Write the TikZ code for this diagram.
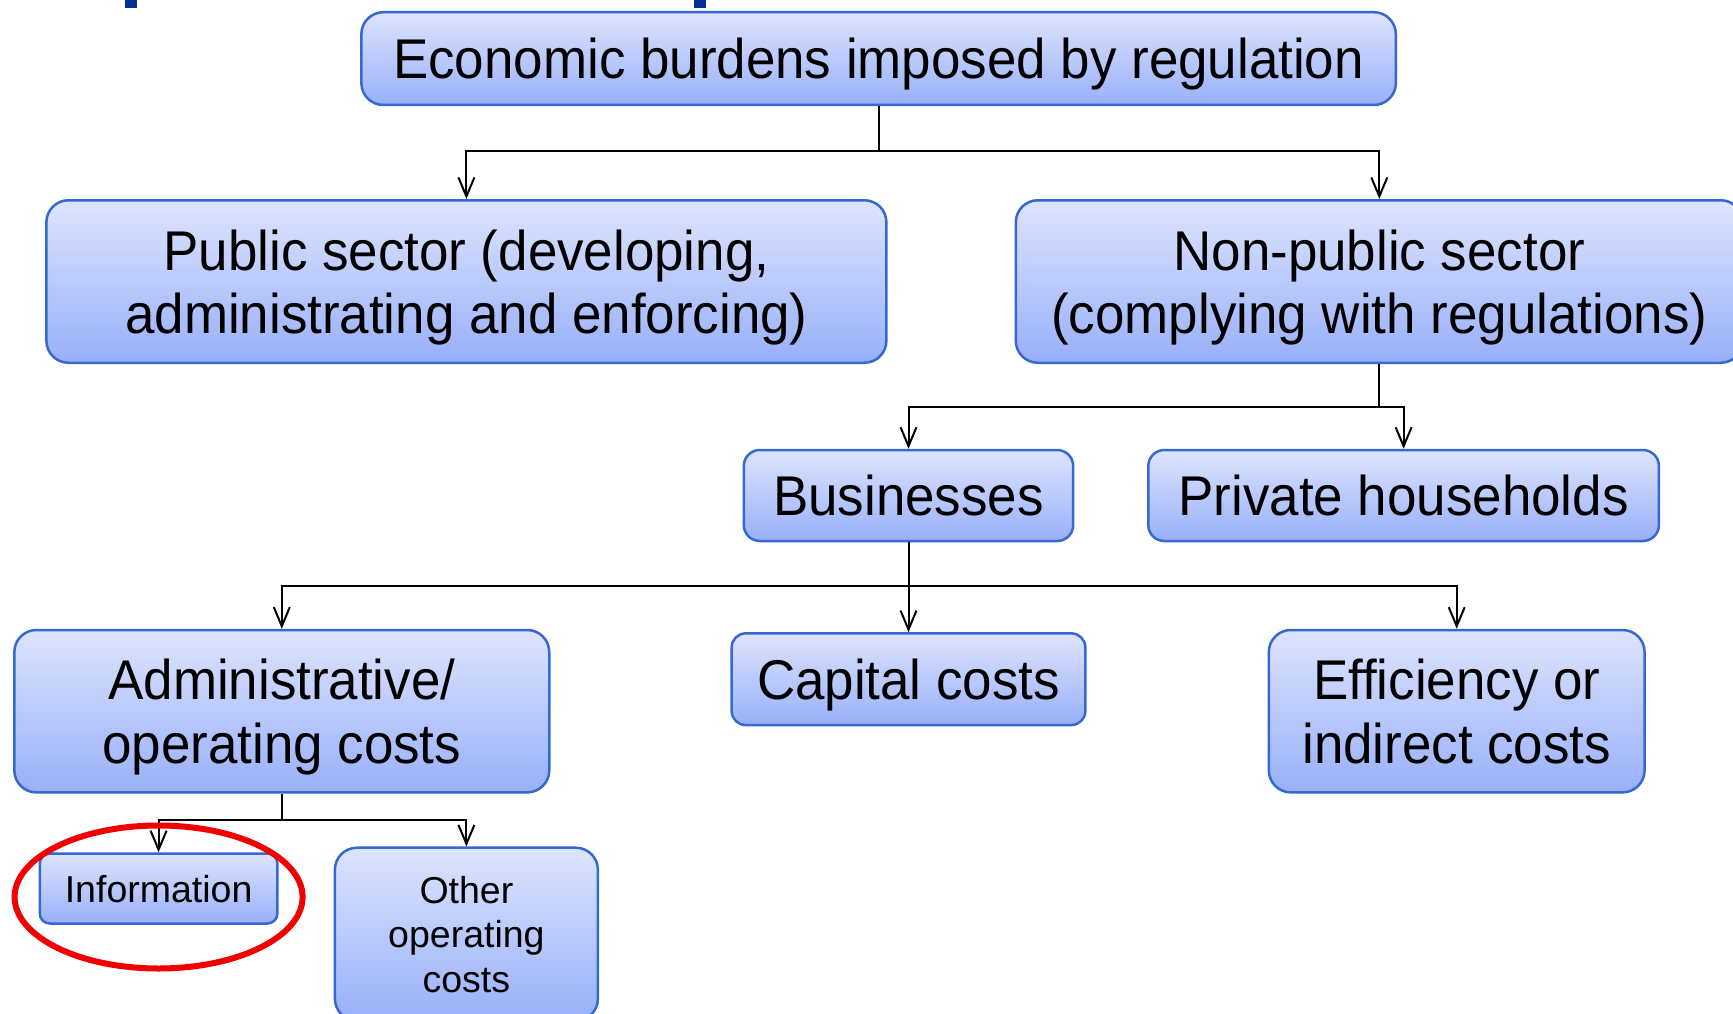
\documentclass[tikz,border=0pt]{standalone}
\usepackage{fontspec}
\setmainfont{Liberation Sans}
\newfontfamily\bigfam{Liberation Sans}[FakeStretch=0.945]
\usetikzlibrary{arrows.meta,shapes.geometric}
\definecolor{boxtop}{RGB}{222,228,253}
\definecolor{boxbot}{RGB}{152,176,250}
\definecolor{boxline}{RGB}{54,104,208}
\definecolor{titleblue}{RGB}{0,48,150}
\definecolor{markred}{RGB}{240,0,0}
\tikzset{
 box/.style={rectangle, rounded corners=#1, draw=boxline, line width=2.5pt,
   top color=boxtop, bottom color=boxbot, inner sep=0pt, align=center, text=black,
   text depth=0pt},
 box/.default=22pt,
 big/.style={font=\bigfam\fontsize{56}{63.3}\selectfont},
 small/.style={font=\fontsize{37.5}{44.7}\selectfont},
 conn/.style={draw=black, line width=2pt},
 arr/.style={conn, -{Straight Barb[length=19pt, width=16pt, line width=2pt]}},
}
\begin{document}
\begin{tikzpicture}[x=1pt, y=-1pt]
\useasboundingbox (0,0) rectangle (1733,1014);
\clip (0,0) rectangle (1733,1014);
% cut-off title fragments
\fill[titleblue] (125,0) rectangle (137,8);
\fill[titleblue] (694,0) rectangle (706,8);
% nodes
\node[box, big, minimum width=1034.5pt, minimum height=92.8pt] (top) at (878.6,58.6) {Economic burdens imposed by regulation};
\node[box, big, minimum width=840pt, minimum height=162.5pt] (pub) at (466.4,281.5) {Public sector (developing,\\administrating and enforcing)};
\node[box, big, minimum width=727pt, minimum height=162.5pt] (nonpub) at (1379.3,281.5) {Non-public sector\\(complying with regulations)};
\node[box=16pt, big, minimum width=329.4pt, minimum height=91pt] (bus) at (908.5,495.5) {Businesses};
\node[box=16pt, big, minimum width=510.6pt, minimum height=91pt] (priv) at (1403.6,495.5) {Private households};
\node[box, big, minimum width=534.9pt, minimum height=162.4pt] (admin) at (281.8,711.2) {Administrative/\\operating costs};
\node[box=14pt, big, minimum width=353.7pt, minimum height=91.7pt] (cap) at (908.5,679.2) {Capital costs};
\node[box, big, minimum width=375.7pt, minimum height=162.4pt] (eff) at (1456.7,711.2) {Efficiency or\\indirect costs};
\node[box=10pt, small, minimum width=237.6pt, minimum height=70pt] (info) at (158.6,888.5) {Information};
\node[box, small, minimum width=263pt, minimum height=173pt] (other) at (466.4,934.2) {Other\\operating\\costs};
% junctions
\coordinate (j1) at (878.6,151.4);
\coordinate (j2) at (1379.3,406.7);
\coordinate (j3) at (908.5,585.8);
\coordinate (j4) at (281.8,820.1);
% connectors
\draw[conn] (top.south) -- (j1);
\draw[arr] (j1) -| (pub.north);
\draw[arr] (j1) -| (nonpub.north);
\draw[conn] (nonpub.south) -- (j2);
\draw[arr] (j2) -| (bus.north);
\draw[arr] (j2) -| (priv.north);
\draw[conn] (bus.south) -- (j3);
\draw[arr] (j3) -| (admin.north);
\draw[arr] (j3) -- (cap.north);
\draw[arr] (j3) -| (eff.north);
\draw[conn] (admin.south) -- (j4);
\draw[arr] (j4) -| (info.north);
\draw[arr] (j4) -| (other.north);
% red highlight
\node[ellipse, draw=markred, line width=6pt, minimum width=288pt, minimum height=143pt, inner sep=0pt] (mark) at (158.6,897) {};
\end{tikzpicture}
\end{document}
